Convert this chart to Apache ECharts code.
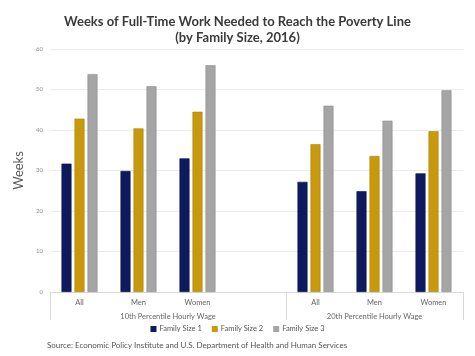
<!DOCTYPE html>
<html><head><meta charset="utf-8">
<script src="https://cdn.jsdelivr.net/npm/echarts@6/dist/echarts.min.js"></script>
<style>html,body{margin:0;padding:0;background:#fff}#c{width:475px;height:356px}</style>
</head><body><div id="c"></div>
<script>
const categories = ["All", "Men", "Women", "", "All", "Men", "Women"];
const groupLabels = ["10th Percentile Hourly Wage", "20th Percentile Hourly Wage"];
const groupSpans = [4, 3];
const seriesNames = ["Family Size 1", "Family Size 2", "Family Size 3"];
const size1 = [31.7, 29.9, 33.0, null, 27.2, 24.9, 29.3];
const size2 = [42.8, 40.4, 44.5, null, 36.5, 33.6, 39.7];
const size3 = [53.8, 50.8, 56.0, null, 46.0, 42.3, 49.8];
const yTicks = [0, 10, 20, 30, 40, 50, 60];
const colors = ["#0d1a5e", "#c8990c", "#a5a5a5"];
const borders = ["#09124a", "#b08509", "#8f8f8f"];

const bounds = [0];
groupSpans.forEach(s => bounds.push(bounds[bounds.length - 1] + s));
const centers = groupSpans.map((s, i) => bounds[i] + s / 2);

const chart = echarts.init(document.getElementById('c'));
const font = 'Lato';
chart.setOption({
  animation: false,
  textStyle: { fontFamily: font },
  title: {
    text: 'Weeks of Full-Time Work Needed to Reach the Poverty Line\n(by Family Size, 2016)',
    left: 'center', top: 9,
    textStyle: { fontFamily: font, fontSize: 13, fontWeight: 'bold', color: '#3a3a3a', lineHeight: 16 }
  },
  graphic: [{
    type: 'text', left: 47, top: 341,
    style: { text: 'Source: Economic Policy Institute and U.S. Department of Health and Human Services', fontFamily: font, fontSize: 8, fill: '#555' }
  }],
  legend: {
    data: seriesNames, bottom: 18, left: 'center',
    itemWidth: 6, itemHeight: 6, itemGap: 10, icon: 'rect',
    itemStyle: { borderWidth: 0 },
    textStyle: { fontSize: 7.5, color: '#555', fontFamily: font, padding: [0, 0, 0, -2] }
  },
  grid: { left: 50, right: 12, top: 49, bottom: 64 },
  xAxis: [{
    type: 'category', data: categories, position: 'bottom',
    axisLine: { lineStyle: { color: '#d9d9d9' } },
    axisTick: { show: false },
    axisLabel: { fontSize: 7.5, color: '#666', margin: 7 }
  }, {
    type: 'value', min: 0, max: bounds[bounds.length - 1], position: 'bottom',
    axisLine: { show: false },
    splitLine: { show: false },
    axisTick: { show: true, customValues: bounds, length: 28, lineStyle: { color: '#d9d9d9' } },
    axisLabel: {
      customValues: centers, fontSize: 7.5, color: '#666', margin: 21,
      formatter: v => groupLabels[centers.indexOf(v)] || ''
    }
  }],
  yAxis: {
    type: 'value', min: yTicks[0], max: yTicks[yTicks.length - 1], interval: 10,
    name: 'Weeks', nameLocation: 'middle', nameGap: 20,
    nameTextStyle: { fontSize: 13, color: '#595959', fontFamily: font },
    axisLine: { show: false }, axisTick: { show: false },
    axisLabel: { fontSize: 6, color: '#8c8c8c', margin: 7 },
    splitLine: { lineStyle: { color: '#ececec' } }
  },
  series: [size1, size2, size3].map((d, i) => ({
    name: seriesNames[i], type: 'bar', data: d, xAxisIndex: 0,
    barWidth: 10, barGap: '30%',
    itemStyle: { color: colors[i], borderColor: borders[i], borderWidth: 0.6 }
  }))
});
</script></body></html>
